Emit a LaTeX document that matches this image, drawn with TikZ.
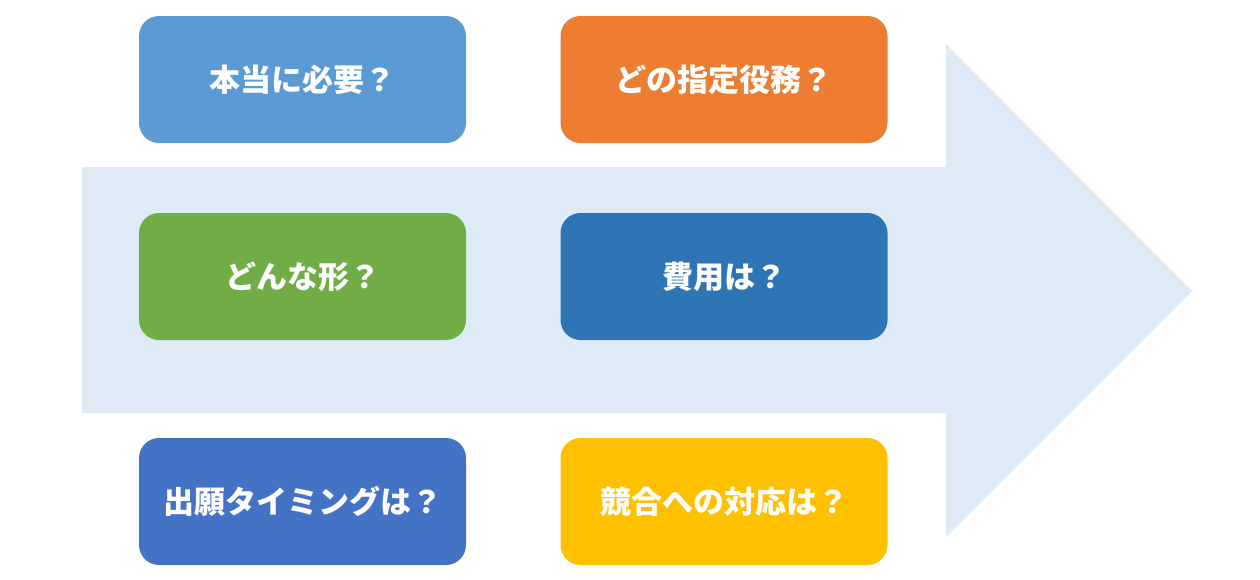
\documentclass[tikz,border=0pt]{standalone}
\usepackage{fontspec}
\newfontfamily\cjk{Noto Sans CJK JP}
\definecolor{arrowc}{HTML}{DEEAF6}
\definecolor{c1}{HTML}{5B9BD5}
\definecolor{c2}{HTML}{ED7D31}
\definecolor{c3}{HTML}{70AD47}
\definecolor{c4}{HTML}{2E75B6}
\definecolor{c5}{HTML}{4472C4}
\definecolor{c6}{HTML}{FFC000}
\begin{document}
\begin{tikzpicture}[x=1pt,y=-1pt,
  qbox/.style={rounded corners=20pt, minimum width=327pt, minimum height=127pt,
    inner sep=0pt, draw=none, text=white, font=\cjk\bfseries\fontsize{31}{35}\selectfont}]
\useasboundingbox (0,0) rectangle (1260,579);
\fill[arrowc] (82,167) -- (946,167) -- (946,44) -- (1192,291) -- (946,537) -- (946,413) -- (82,413) -- cycle;
\node[qbox, fill=c1] (b1) at (302.5,79.5) {本当に必要？};
\node[qbox, fill=c2] (b2) at (724,79.5) {どの指定役務？};
\node[qbox, fill=c3] (b3) at (302.5,276.5) {どんな形？};
\node[qbox, fill=c4] (b4) at (724,276.5) {費用は？};
\node[qbox, fill=c5] (b5) at (302.5,501.5) {出願タイミングは？};
\node[qbox, fill=c6] (b6) at (724,501.5) {競合への対応は？};
\end{tikzpicture}
\end{document}
